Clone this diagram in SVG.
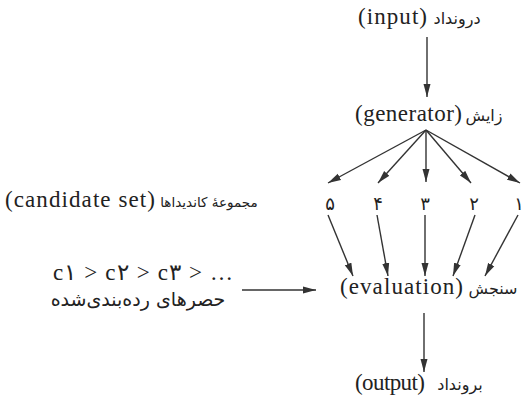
<svg xmlns="http://www.w3.org/2000/svg" width="525" height="406" viewBox="0 0 525 406">
  <style>
    .lat { font-family: "Liberation Serif", "DejaVu Serif", serif; font-size: 23px; fill: #222; }
    .fa { font-family: "DejaVu Sans", "Noto Sans", sans-serif; font-size: 16px; fill: #222; }
    .num { font-family: "DejaVu Sans", "Noto Sans", sans-serif; font-size: 18px; fill: #222; }
    .edge { stroke: #333; stroke-width: 1.4; fill: none; marker-end: url(#arrow); }
  </style>
  <defs>
    <marker id="arrow" markerUnits="userSpaceOnUse" markerWidth="14" markerHeight="8" refX="13" refY="4" orient="auto">
      <path d="M0,0.5 L13,4 L0,7.5 z" fill="#333"/>
    </marker>
  </defs>
  <rect width="525" height="406" fill="#fff"/>

  <g id="input">
    <text class="lat" x="358" y="24" textLength="69" lengthAdjust="spacing">(input)</text>
    <text class="fa" x="457" y="24" text-anchor="middle">درونداد</text>
  </g>

  <g id="generator">
    <text class="lat" x="355" y="121" textLength="107" lengthAdjust="spacing">(generator)</text>
    <text class="fa" x="484" y="121" text-anchor="middle">زایش</text>
  </g>

  <g id="candidates">
    <text class="lat" x="5" y="207" textLength="150" lengthAdjust="spacing">(candidate set)</text>
    <text class="fa" x="209" y="207" text-anchor="middle" style="font-size:13.5px">مجموعهٔ کاندیداها</text>
    <text class="num" x="330" y="210" text-anchor="middle">۵</text>
    <text class="num" x="378" y="210" text-anchor="middle">۴</text>
    <text class="num" x="425" y="210" text-anchor="middle">۳</text>
    <text class="num" x="474" y="210" text-anchor="middle">۲</text>
    <text class="num" x="519" y="210" text-anchor="middle">۱</text>
  </g>

  <g id="ranking">
    <text class="lat" x="53" y="280" textLength="180" lengthAdjust="spacing">c۱ &gt; c۲ &gt; c۳ &gt; …</text>
    <text class="fa" x="138" y="306" text-anchor="middle" style="font-size:19px">حصرهای رده‌بندی‌شده</text>
  </g>

  <g id="evaluation">
    <text class="lat" x="340" y="294" textLength="123" lengthAdjust="spacing">(evaluation)</text>
    <text class="fa" x="493" y="294" text-anchor="middle">سنجش</text>
  </g>

  <g id="output">
    <text class="lat" x="355" y="390" textLength="70" lengthAdjust="spacing">(output)</text>
    <text class="fa" x="460" y="390" text-anchor="middle">برونداد</text>
  </g>

  <g id="connectors">
    <line class="edge" x1="427" y1="37" x2="427" y2="97"/>
    <line class="edge" x1="426" y1="130" x2="328" y2="183"/>
    <line class="edge" x1="426" y1="130" x2="378" y2="183"/>
    <line class="edge" x1="426" y1="130" x2="426" y2="182"/>
    <line class="edge" x1="426" y1="130" x2="471" y2="183"/>
    <line class="edge" x1="426" y1="130" x2="520" y2="183"/>
    <line class="edge" x1="328" y1="215" x2="353" y2="276"/>
    <line class="edge" x1="377" y1="215" x2="388" y2="276"/>
    <line class="edge" x1="425" y1="215" x2="425" y2="276"/>
    <line class="edge" x1="475" y1="215" x2="453" y2="276"/>
    <line class="edge" x1="518" y1="215" x2="485" y2="276"/>
    <line class="edge" x1="242" y1="290" x2="316" y2="290"/>
    <line class="edge" x1="424" y1="313" x2="424" y2="372"/>
  </g>
</svg>
